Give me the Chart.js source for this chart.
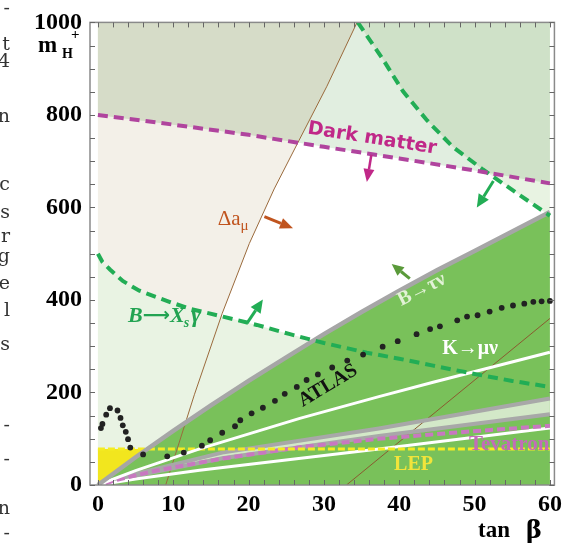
<!DOCTYPE html>
<html><head><meta charset="utf-8">
<script src="https://cdn.jsdelivr.net/npm/chart.js@4.4.0/dist/chart.umd.min.js"></script>
<style>html,body{margin:0;padding:0;background:#fff;overflow:hidden}canvas{display:block}</style>
</head><body>
<canvas id="c" width="567" height="546"></canvas>
<script>
// ---------------- data ----------------
const xTickLabels = [0, 10, 20, 30, 40, 50, 60];
const yTickLabels = [0, 200, 400, 600, 800, 1000];
const xMinorTicks = [0,2,4,6,8,10,12,14,16,18,20,22,24,26,28,30,32,34,36,38,40,42,44,46,48,50,52,54,56,58,60];
const yMinorTicks = [0,50,100,150,200,250,300,350,400,450,500,550,600,650,700,750,800,850,900,950,1000];

// Dark matter bound (magenta dashed)
const darkMatter = [[0,800],[10,779],[20,757],[30,731],[40,706],[50,680],[60,652]];
// Delta a_mu bounds (thin brown lines)
const amuLine1 = [[9,0],[12.8,195],[16.5,371],[20.1,522],[23.4,640],[26.7,745],[30.4,862],[34.4,1000]];
const amuLine2 = [[33,0],[60,360]];
// B -> Xs gamma bounds (green dashed)
const bxsgUpper = [[34.5,1000],[37.8,921],[40.5,851],[43.7,788],[47.1,731],[51.1,682],[55.6,631],[60,582]];
const bxsgLower = [[0,500],[0.6,482],[1.6,466],[3.3,441],[5.5,420],[7.8,406],[10,393],[12.2,381],[16.6,364],[21.1,346],[25.5,326],[30,307],[35.7,286],[40,273],[44.5,258],[50,240],[55,225],[60,212]];
// B -> tau nu bound (grey, upper edge of green region)
const btaunu = [[0,0],[5,60],[10,117],[15,172],[20,225],[25,276],[30,326],[35,374],[40,420],[45,464],[50,506],[55,548],[60,590]];
// grey band (two grey lines)
const greyBandUpper = [[0,0],[5,24],[16.5,70],[37.3,122],[60,187]];
const greyBandLower = [[0,0],[5,20],[16.5,58],[37.3,106],[60,153]];
// K -> mu nu (white)
const kmunu = [[0,0],[5,31],[13.5,78],[26.8,144],[37.3,191],[44.5,222],[60,287]];
// lower white line
const whiteLower = [[0,0],[5,13],[13.5,32],[37.3,78],[60,123]];
// Tevatron (magenta dashed)
const tevatron = [[1,3],[2.2,10],[8,32],[16.5,57],[27,82],[37.3,100],[48,114],[60,128]];
// LEP (yellow dashed) level
const lepLevel = 78;
// ATLAS reach (black dots)
const atlas = [[0.4,123],[0.6,132],[1.1,152],[1.6,166],[2.6,161],[3.0,145],[3.3,129],[3.7,115],[4.0,99],[4.3,81],[6.0,66],[9.2,62],[11.4,70],[13.8,85],[14.9,97],[16.5,113],[18.2,127],[18.9,140],[20.4,155],[21.9,167],[23.5,182],[24.8,197],[26.4,212],[27.7,227],[29.2,239],[31.1,254],[33.1,269],[35.2,282],[37.8,299],[39.8,311],[42.3,326],[44.1,337],[45.4,343],[47.7,356],[49.0,364],[50.4,367],[52.0,375],[53.6,383],[55.1,388],[56.6,392],[57.8,396],[58.9,397],[60,398]];

// ---------------- helpers ----------------
const P = a => a.map(p => ({x: p[0], y: p[1]}));
function segInt(p1, p2, p3, p4) {
  const d = (p2[0]-p1[0])*(p4[1]-p3[1]) - (p2[1]-p1[1])*(p4[0]-p3[0]);
  if (!d) return null;
  const t = ((p3[0]-p1[0])*(p4[1]-p3[1]) - (p3[1]-p1[1])*(p4[0]-p3[0])) / d;
  const u = ((p3[0]-p1[0])*(p2[1]-p1[1]) - (p3[1]-p1[1])*(p2[0]-p1[0])) / d;
  if (t >= 0 && t <= 1 && u >= 0 && u <= 1) return [p1[0]+t*(p2[0]-p1[0]), p1[1]+t*(p2[1]-p1[1])];
  return null;
}
function polyInt(a, b) {
  for (let i = 0; i < a.length-1; i++) for (let j = 0; j < b.length-1; j++) {
    const pt = segInt(a[i], a[i+1], b[j], b[j+1]);
    if (pt) return {i, j, pt};
  }
  return null;
}
const X0 = 0, X1 = 60, Y0 = 0, Y1 = 1000;
// regions built from the curves
const regBeige = [[X0,Y0], ...amuLine1, [X0,Y1]];
const regDM = [...darkMatter, [X1,Y1], [X0,Y1]];
const iA = polyInt(darkMatter, amuLine1);
const regOlive = [...darkMatter.slice(0, iA.i+1), iA.pt, ...amuLine1.slice(iA.j+1), [X0,Y1]];
const regUp = [...bxsgUpper, [X1,Y1]];
const iB = polyInt(bxsgUpper, darkMatter);
const regUpDM = [...bxsgUpper.slice(0, iB.i+1), iB.pt, ...darkMatter.slice(iB.j+1), [X1,Y1]];
const regLow = [...bxsgLower, [X1,Y0], [X0,Y0]];
const regLEP = [[X0,Y0],[X0,lepLevel],[15,lepLevel],[15,Y0]];
const regGreen = [...btaunu, [X1,Y0]];
const regBand = [...greyBandUpper, ...greyBandLower.slice().reverse()];

const poly = (pts, color) => ({data: P(pts), fill: 'shape', backgroundColor: color, borderColor: 'rgba(0,0,0,0)', borderWidth: 0, pointRadius: 0, tension: 0});
const line = (pts, color, width, dash) => ({data: P(pts), fill: false, borderColor: color, borderWidth: width, borderDash: dash || [], pointRadius: 0, tension: 0, borderCapStyle: 'butt'});

const layers = [
  poly(regBeige, '#f3f0e8'),
  poly(regDM, '#e1eee0'),
  poly(regOlive, '#d6dcc8'),
  poly(regUp, '#e8f3e2'),
  poly(regUpDM, '#cfe1c8'),
  poly(regLow, '#e9f3e3'),
  poly(regLEP, '#f2e61e'),
  poly(regGreen, '#79c15a'),
  poly(regBand, '#d3e8c8'),
  line(amuLine1, '#9a6a3c', 1),
  line(amuLine2, '#8a5a30', 1),
  line(greyBandUpper, '#a8a8a8', 4),
  line(greyBandLower, '#a8a8a8', 4),
  line(whiteLower, '#ffffff', 3),
  line(tevatron, '#c878c0', 4, [8,4]),
  line([[X0,lepLevel],[X1,lepLevel]], '#f4ec22', 3, [7,3]),
  line(kmunu, '#ffffff', 3),
  line(btaunu, '#a6a6a6', 4.5),
  line(bxsgLower, '#22ad55', 4, [10,6]),
  line(bxsgUpper, '#22ad55', 4, [10,6]),
  line(darkMatter, '#b0449e', 4, [10,6]),
  {type: 'scatter', data: P(atlas), showLine: false, pointRadius: 2.9, pointBackgroundColor: '#222', pointBorderWidth: 0, borderColor: '#222'}
];
const datasets = layers.map((d, i) => Object.assign(d, {order: layers.length - i}));

// ---------------- annotations (positions in data coords) ----------------
const arrows = [
  {from:[22.1,580], to:[25.9,555], color:'#c0541e', w:3, hl:13, hw:11},
  {from:[36.3,714], to:[35.7,655], color:'#c02888', w:2.5, hl:13, hw:11},
  {from:[19.8,350], to:[21.9,401], color:'#22ad55', w:3, hl:13, hw:12},
  {from:[52.5,657], to:[50.3,600], color:'#22ad55', w:3, hl:13, hw:12},
  {from:[41.4,446], to:[39.0,478], color:'#5a9a3a', w:3, hl:12, hw:11}
];
const serifB = '"Liberation Serif", "Times New Roman", serif';

const decor = {
  id: 'decor',
  afterDatasetsDraw(chart) {
    const ctx = chart.ctx, xs = chart.scales.x, ys = chart.scales.y, a = chart.chartArea;
    const px = v => xs.getPixelForValue(v), py = v => ys.getPixelForValue(v);
    ctx.save();
    // frame
    ctx.strokeStyle = '#8a8a8a'; ctx.lineWidth = 1.5;
    ctx.strokeRect(a.left, a.top, a.right - a.left, a.bottom - a.top);
    // inward ticks
    ctx.strokeStyle = '#666'; ctx.lineWidth = 1;
    ctx.beginPath();
    xMinorTicks.forEach(v => { const x = Math.round(px(v)) + 0.5; ctx.moveTo(x, a.bottom); ctx.lineTo(x, a.bottom - 5); ctx.moveTo(x, a.top); ctx.lineTo(x, a.top + 5); });
    yMinorTicks.forEach(v => { const y = Math.round(py(v)) + 0.5; ctx.moveTo(a.left, y); ctx.lineTo(a.left + 5, y); ctx.moveTo(a.right, y); ctx.lineTo(a.right - 5, y); });
    ctx.stroke();
    // arrows
    arrows.forEach(ar => {
      const x0 = px(ar.from[0]), y0 = py(ar.from[1]), x1 = px(ar.to[0]), y1 = py(ar.to[1]);
      const ang = Math.atan2(y1 - y0, x1 - x0);
      const bx = x1 - ar.hl * Math.cos(ang), by = y1 - ar.hl * Math.sin(ang);
      ctx.strokeStyle = ar.color; ctx.fillStyle = ar.color; ctx.lineWidth = ar.w;
      ctx.beginPath(); ctx.moveTo(x0, y0); ctx.lineTo(bx, by); ctx.stroke();
      ctx.beginPath(); ctx.moveTo(x1, y1);
      ctx.lineTo(bx + ar.hw/2 * Math.sin(ang), by - ar.hw/2 * Math.cos(ang));
      ctx.lineTo(bx - ar.hw/2 * Math.sin(ang), by + ar.hw/2 * Math.cos(ang));
      ctx.closePath(); ctx.fill();
    });
    const txt = (s, x, y, font, color, rot, align) => {
      ctx.save(); ctx.translate(x, y); if (rot) ctx.rotate(rot * Math.PI / 180);
      ctx.font = font; ctx.fillStyle = color; ctx.textAlign = align || 'center'; ctx.textBaseline = 'alphabetic';
      ctx.fillText(s, 0, 0); ctx.restore();
    };
    // Dark matter
    txt('Dark matter', px(36.3), py(738), 'bold 19px "DejaVu Sans", sans-serif', '#c02888', 9);
    // Delta a_mu
    ctx.font = '21px ' + serifB; ctx.fillStyle = '#c0541e'; ctx.textAlign = 'left'; ctx.textBaseline = 'alphabetic';
    let x = px(15.9), y = py(562);
    ctx.fillText('Δa', x, y); x += ctx.measureText('Δa').width;
    ctx.font = '15px ' + serifB; ctx.fillText('μ', x, y + 5);
    // B -> Xs gamma
    ctx.fillStyle = '#22a352';
    x = px(4.0); y = py(352);
    ctx.font = 'italic bold 22px ' + serifB; ctx.fillText('B', x, y); x += ctx.measureText('B').width;
    ctx.font = 'bold 19px "DejaVu Sans", sans-serif'; ctx.fillText('⟶', x, y - 1); x += ctx.measureText('⟶').width;
    ctx.font = 'italic bold 22px ' + serifB; ctx.fillText('X', x, y); x += ctx.measureText('X').width;
    ctx.font = 'italic bold 14px ' + serifB; ctx.fillText('s', x - 1, y + 5); x += ctx.measureText('s').width + 1;
    ctx.font = 'italic bold 24px ' + serifB; ctx.fillText('γ', x, y);
    // other labels
    txt('B→τν', px(43.3), py(412), 'bold 20px ' + serifB, '#e2f2d6', -27);
    txt('K→μν', px(49.4), py(283), 'bold 20px ' + serifB, '#ffffff', 0);
    txt('ATLAS', px(30.9), py(205), 'bold 20px ' + serifB, '#111111', -31);
    txt('Tevatron', px(54.6), py(75), 'bold 21px ' + serifB, '#c36cb8', 0);
    txt('LEP', px(41.9), py(32), 'bold 20px ' + serifB, '#f2e43a', 0);
    ctx.restore();
  },
  afterDraw(chart) {
    const ctx = chart.ctx;
    ctx.save();
    ctx.fillStyle = '#000'; ctx.textBaseline = 'alphabetic'; ctx.textAlign = 'left';
    // axis titles
    ctx.font = 'bold 23px ' + serifB; ctx.fillText('m', 38, 52);
    ctx.font = 'bold 14px ' + serifB; ctx.fillText('H', 62, 58);
    ctx.font = 'bold 15px ' + serifB; ctx.fillText('+', 71, 39);
    ctx.font = 'bold 23px ' + serifB; ctx.fillText('tan', 478, 537);
    ctx.font = 'bold 24px "DejaVu Serif", serif'; ctx.fillText('β', 526, 538);
    // fragments of surrounding page text
    ctx.font = '19px "DejaVu Serif", serif'; ctx.fillStyle = '#333'; ctx.textAlign = 'right';
    [['-',14],['t',50],['4',67],['n',122],['c',190],['s',218],['r',242],['g',262],['e',289],['l',316],['s',350],['-',431],['-',465],['n',514],['-',539]]
      .forEach(f => ctx.fillText(f[0], 10, f[1]));
    ctx.restore();
  }
};

const tickFont = {family: '"Liberation Serif", serif', weight: 'bold', size: 24};
new Chart(document.getElementById('c'), {
  type: 'line',
  data: {datasets},
  options: {
    responsive: false, animation: false, events: [],
    layout: {padding: {left: 0, right: 10, top: 13, bottom: 0}},
    plugins: {legend: {display: false}, tooltip: {enabled: false}},
    scales: {
      x: {type: 'linear', min: -1.05, max: 60.6,
          afterBuildTicks: s => { s.ticks = xTickLabels.map(v => ({value: v})); },
          afterFit: s => { s.height = 61; },
          ticks: {font: tickFont, color: '#000', padding: 5, maxRotation: 0, autoSkip: false, callback: v => String(v)},
          grid: {display: false, drawTicks: false}, border: {display: false}},
      y: {type: 'linear', min: 0, max: 1000,
          afterBuildTicks: s => { s.ticks = yTickLabels.map(v => ({value: v})); },
          afterFit: s => { s.width = 90; },
          ticks: {font: tickFont, color: '#000', padding: 8, autoSkip: false, callback: v => String(v)},
          grid: {display: false, drawTicks: false}, border: {display: false}}
    }
  },
  plugins: [decor]
});
</script>
</body></html>
